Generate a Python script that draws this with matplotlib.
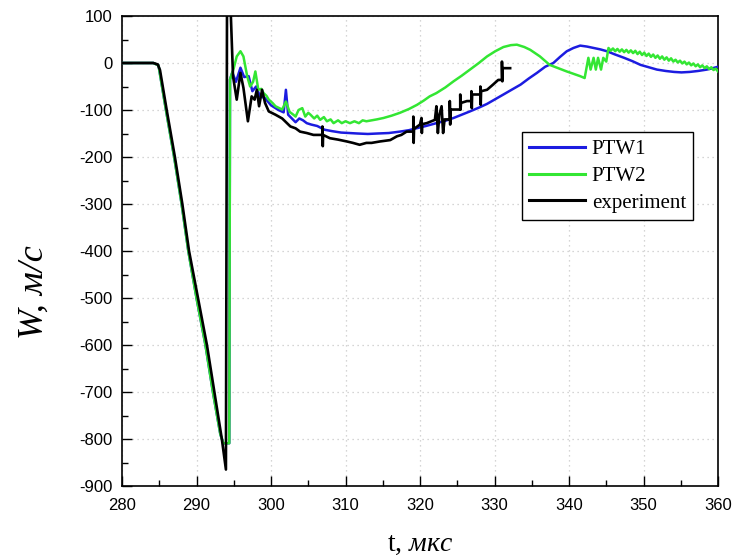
import matplotlib
matplotlib.use("Agg")
import matplotlib.pyplot as plt
from matplotlib.ticker import MultipleLocator

plt.rcParams['axes.unicode_minus'] = False
plt.rcParams['mathtext.fontset'] = 'custom'
plt.rcParams['mathtext.rm'] = 'Liberation Serif'
plt.rcParams['mathtext.it'] = 'Liberation Serif:italic'

# ---------------- data ----------------
ptw1_t = [280, 284.2, 284.9, 285.9, 287.0, 288.0, 288.9, 290.0, 291.2, 292.2, 293.2, 293.6, 294.4,
          294.5, 294.8, 295.3, 295.9, 296.4, 297.0, 297.5, 298.0, 298.5, 299.2, 300.0, 301.0, 301.7,
          302.0, 302.3, 302.8, 303.3, 303.8, 304.3, 304.8, 305.4, 306.2, 307.2, 308.2, 309.4, 310.5,
          311.6, 313.0, 314.3, 315.8, 317.3, 318.5, 319.5, 320.8, 322.2, 323.4, 324.5, 325.6, 326.7,
          327.9, 329.0, 330.1, 331.2, 332.4, 333.5, 334.6, 335.7, 336.8, 337.9, 338.8, 339.7, 340.6,
          341.5, 342.4, 343.3, 344.2, 345.1, 346.2, 347.4, 348.5, 349.6, 350.7, 351.8, 353.0, 354.1,
          355.1, 356.2, 357.3, 358.5, 359.3, 360.0]
ptw1_w = [0, 0, -5, -100, -200, -300, -400, -500, -600, -700, -790, -809, -809,
          -35, -20, -40, -10, -30, -28, -60, -50, -70, -75, -90, -100, -105,
          -57, -110, -118, -126, -118, -122, -128, -131, -134, -142, -145, -148, -149,
          -150, -151, -150, -149, -146, -143, -139, -134, -128, -123, -117, -110, -103,
          -95, -87, -77, -67, -56, -46, -33, -21, -8, 0, 13, 25, 32,
          37, 35, 32, 29, 25, 18, 11, 4, -4, -9, -14, -17, -19,
          -20, -19, -17, -14, -11, -8]

ptw2_t = [280, 284.2, 284.9, 285.9, 287.0, 288.0, 288.9, 290.0, 291.2, 292.2, 293.2, 293.6, 294.4,
          294.5, 295.0, 295.4, 295.9, 296.3, 296.8, 297.2, 297.6, 297.9, 298.3, 298.7, 299.0, 299.4,
          299.7, 300.2, 300.6, 301.0, 301.5, 302.0, 302.5, 303.0, 303.3, 303.7, 304.2, 304.6, 305.0,
          305.3, 305.8, 306.2, 306.6, 307.1, 307.5, 308.0, 308.4, 309.0, 309.5, 310.0, 310.6, 311.2,
          311.8, 312.3, 312.8, 313.5, 314.2, 315.1, 316.2, 317.3, 318.5, 319.6, 320.5, 321.3, 322.2,
          323.4, 324.5, 325.6, 326.7, 327.9, 329.0, 330.1, 331.2, 332.2, 333.0, 334.0, 334.8, 336.1,
          337.4, 339.7, 341.5, 342.1, 342.6, 342.9, 343.3, 343.6, 343.9, 344.3, 344.6, 345.0,
          345.3, 345.6, 345.9, 346.2, 346.5, 346.8, 347.1, 347.4, 347.7, 348.0, 348.3, 348.6,
          348.9, 349.2, 349.5, 349.8, 350.1, 350.4, 350.7, 351.0, 351.3, 351.6, 351.9, 352.2,
          352.5, 352.8, 353.1, 353.4, 353.7, 354.0, 354.3, 354.6, 354.9, 355.2, 355.5, 355.8,
          356.1, 356.4, 356.7, 357.0, 357.3, 357.6, 357.9, 358.2, 358.5, 358.8, 359.1, 359.4,
          359.7, 360.0]
ptw2_w = [0, 0, -5, -100, -200, -300, -400, -500, -600, -700, -790, -809, -809,
          -35, -11, 14, 25, 14, -28, -50, -40, -18, -57, -55, -64, -70,
          -78, -85, -92, -95, -99, -82, -104, -110, -114, -100, -96, -114, -106,
          -110, -118, -112, -121, -115, -124, -120, -128, -122, -128, -124, -128, -124,
          -128, -122, -124, -122, -120, -117, -112, -106, -98, -89, -80, -71, -64,
          -52, -39, -27, -14, 0, 14, 25, 34, 38, 39, 34, 28, 14,
          -4, -18, -28, -32, 11, -14, 11, -14, 11, -14, 11, 3,
          32, 26, 31, 25, 30, 24, 29, 23, 28, 22, 27, 21,
          26, 19, 24, 17, 22, 15, 20, 13, 18, 11, 16, 9,
          14, 7, 12, 5, 10, 3, 7, 1, 5, -1, 3, -3,
          1, -5, -1, -7, -3, -9, -5, -11, -7, -13, -9, -15,
          -12, -18]

exp_t = [280, 284.2, 284.8, 285.1, 286.0, 287.1, 288.1, 289.0, 290.2, 291.4, 292.4, 293.4, 293.95,
         294.1, 294.5, 294.9, 295.4, 295.9, 296.3, 296.9, 297.4, 297.8, 298.1, 298.4, 298.8, 299.2,
         299.7, 300.6, 301.5, 302.6, 303.3, 303.9, 304.8, 305.7, 306.9, 306.9, 306.95, 307.0, 307.9,
         309.0, 310.2, 311.0, 311.9, 312.8, 313.5, 314.6, 316.0, 316.9, 317.5, 318.2, 319.1, 319.1,
         319.15, 319.2, 320.0, 320.2, 320.25, 320.3, 320.9, 322.0, 322.2, 322.4, 322.6, 322.9, 323.1,
         323.3, 324.0, 324.0, 324.05, 324.1, 324.9, 325.4, 325.4, 325.45, 325.5, 326.3, 326.9, 326.9,
         326.95, 327.0, 327.8, 328.1, 328.1, 328.15, 328.2, 329.0, 329.8, 330.5, 331.0, 331.0, 331.05,
         331.1, 332.1]
exp_w = [0, 0, -3, -15, -100, -200, -300, -400, -500, -600, -700, -800, -865,
         150, 150, -28, -78, -21, -53, -124, -71, -78, -57, -92, -57, -85,
         -103, -110, -118, -135, -139, -146, -149, -153, -153, -135, -177, -153, -160,
         -163, -167, -170, -174, -170, -170, -167, -164, -156, -153, -146, -146, -114,
         -170, -140, -131, -117, -149, -130, -128, -121, -92, -149, -110, -92, -149,
         -120, -120, -81, -131, -99, -99, -99, -67, -99, -85, -81, -81, -60,
         -96, -67, -67, -67, -50, -89, -60, -57, -46, -36, -36, 3, -39,
         -11, -11]

series_labels = ["PTW1", "PTW2", "experiment"]
x_ticks = list(range(280, 361, 10))
y_ticks = list(range(-900, 101, 100))

# ---------------- figure ----------------
fig = plt.figure(figsize=(7.34, 5.59), dpi=100)
ax = fig.add_axes([122 / 734, (559 - 486) / 559, 596 / 734, 470 / 559])

ax.plot(ptw1_t, ptw1_w, color="#1c1ce0", lw=1.8, label=series_labels[0], zorder=3)
ax.plot(ptw2_t, ptw2_w, color="#33e633", lw=1.8, label=series_labels[1], zorder=4)
ax.plot(exp_t, exp_w, color="black", lw=1.9, label=series_labels[2], zorder=5)

ax.set_xlim(280, 360)
ax.set_ylim(-900, 100)
ax.set_xticks(x_ticks)
ax.set_yticks(y_ticks)
ax.xaxis.set_minor_locator(MultipleLocator(5))
ax.yaxis.set_minor_locator(MultipleLocator(50))
ax.tick_params(which="both", direction="in", top=False, right=False, width=1.0)
ax.tick_params(which="major", length=7)
ax.tick_params(which="minor", length=4)
ax.tick_params(axis="y", pad=7)
ax.tick_params(axis="x", pad=9)
for lab in ax.get_xticklabels() + ax.get_yticklabels():
    lab.set_fontfamily("Liberation Sans")
    lab.set_fontsize(12)

ax.grid(True, which="major", color="#c8c8c8", linestyle=(0, (1, 3)), linewidth=0.9)
ax.set_axisbelow(True)
for s in ax.spines.values():
    s.set_linewidth(1.2)

ax.set_xlabel(r"t, $\mathit{мкс}$", fontfamily="Liberation Serif", fontsize=20)
ax.xaxis.set_label_coords(0.5, -0.097)
ax.set_ylabel("W, м/с", fontfamily="Liberation Serif", fontstyle="italic", fontsize=26)
ax.yaxis.set_label_coords(-0.12, 0.413)

leg = ax.legend(loc="upper left", bbox_to_anchor=(0.671, 0.753), borderaxespad=0,
                prop={"family": "Liberation Serif", "size": 15}, frameon=True, fancybox=False,
                edgecolor="black", framealpha=1, handlelength=2.7, handletextpad=0.3,
                labelspacing=0.35, borderpad=0.35)
leg.get_frame().set_linewidth(1.0)
for line in leg.get_lines():
    line.set_linewidth(2.2)

fig.savefig("out.png", dpi=100)
